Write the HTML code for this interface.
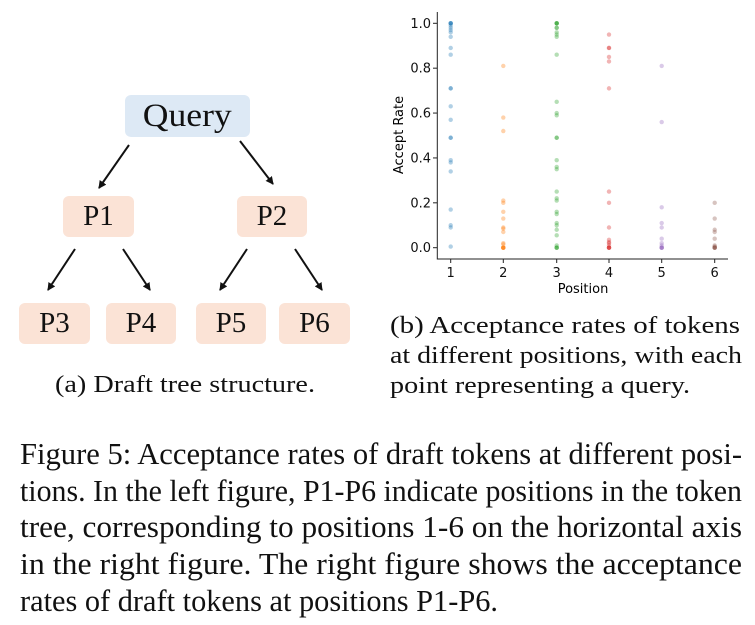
<!DOCTYPE html>
<html><head><meta charset="utf-8"><style>
body{margin:0;width:755px;height:625px;background:#fff;overflow:hidden;position:relative;font-family:"Liberation Serif",serif;color:#111}
.b{position:absolute;border-radius:6px;display:flex;align-items:center;justify-content:center;font-size:29px;background:#fbe3d6}
.f{position:absolute;white-space:nowrap;transform-origin:0 0;display:block}
</style></head><body>
<div class="b" style="left:125px;top:95px;width:125px;height:42px;background:#dde9f5"><span id="q" style="font-size:33px;display:inline-block">Query</span></div>
<div class="b" style="left:63px;top:196px;width:71px;height:41px">P1</div>
<div class="b" style="left:237px;top:196px;width:70px;height:41px">P2</div>
<div class="b" style="left:19px;top:303px;width:71px;height:41px">P3</div>
<div class="b" style="left:106px;top:303px;width:70px;height:41px">P4</div>
<div class="b" style="left:196px;top:303px;width:70px;height:41px">P5</div>
<div class="b" style="left:279px;top:303px;width:71px;height:41px">P6</div>
<svg style="position:absolute;left:0;top:0" width="755" height="625">
<defs><marker id="a" markerWidth="8" markerHeight="8" refX="7" refY="4" orient="auto" markerUnits="userSpaceOnUse"><path d="M0,0L8,4L0,8z" fill="#111"/></marker></defs>
<g stroke="#111" stroke-width="2" marker-end="url(#a)">
<line x1="129" y1="145" x2="99" y2="188"/><line x1="240" y1="141" x2="273" y2="184"/>
<line x1="75" y1="249" x2="48" y2="290"/><line x1="123" y1="249" x2="150" y2="290"/>
<line x1="247" y1="249" x2="220" y2="290"/><line x1="295" y1="249" x2="322" y2="290"/>
</g>
<g id="pl"></g>
<g stroke="#222" stroke-width="1" fill="none"><path d="M437.3,12V259H728"/></g>
<g font-family="DejaVu Sans,sans-serif" font-size="13" fill="#111" id="ax"></g>
<text x="403" y="135" transform="rotate(-90 403 135)" text-anchor="middle" font-family="DejaVu Sans,sans-serif" font-size="13">Accept Rate</text>
<text x="583" y="293" text-anchor="middle" font-family="DejaVu Sans,sans-serif" font-size="13">Position</text>
</svg>
<div class="f" id="ca" style="left:55px;top:370px;font-size:24px;line-height:30px">(a) Draft tree structure.</div>
<div class="f" id="b1" style="left:390px;top:311px;font-size:24px;line-height:30px">(b) Acceptance rates of tokens</div>
<div class="f" id="b2" style="left:390px;top:341px;font-size:24px;line-height:30px">at different positions, with each</div>
<div class="f" id="b3" style="left:390px;top:371px;font-size:24px;line-height:30px">point representing a query.</div>
<div class="f" id="m1" style="left:20px;top:436px;font-size:31px;line-height:36.7px">Figure 5: Acceptance rates of draft tokens at different posi-</div>
<div class="f" id="m2" style="left:20px;top:472.7px;font-size:31px;line-height:36.7px">tions. In the left figure, P1-P6 indicate positions in the token</div>
<div class="f" id="m3" style="left:20px;top:509.4px;font-size:31px;line-height:36.7px">tree, corresponding to positions 1-6 on the horizontal axis</div>
<div class="f" id="m4" style="left:20px;top:546.1px;font-size:31px;line-height:36.7px">in the right figure. The right figure shows the acceptance</div>
<div class="f" id="m5" style="left:20px;top:582.8px;font-size:31px;line-height:36.7px">rates of draft tokens at positions P1-P6.</div>
<script>
var xs=[450.7,503.3,556.7,609,661.7,714.7],cols=["#1f77b4","#ff7f0e","#2ca02c","#d62728","#9467bd","#8c564b"];
var d=[[1,1,1,1,.99,.98,.97,.96,.94,.89,.86,.71,.71,.63,.57,.49,.49,.39,.38,.34,.17,.10,.09,.005],
[.81,.58,.52,.21,.20,.16,.13,.09,.085,.07,.02,.015,0,0,0,0,0],
[1,1,1,1,.98,.98,.96,.95,.94,.86,.65,.60,.59,.49,.49,.39,.36,.35,.25,.22,.21,.16,.15,.11,.10,.08,.055,.01,0,0,0],
[.95,.89,.89,.85,.83,.71,.25,.20,.09,.035,.025,.02,.01,0,0,0,0],
[.81,.56,.18,.11,.09,.04,.02,.01,0,0,0,0],
[.20,.13,.08,.07,.04,.01,.005,0,0,0,0]];
var s="";d.forEach(function(a,i){a.forEach(function(v){s+='<circle cx="'+xs[i]+'" cy="'+(247.7-v*224.4)+'" r="2.2" fill="'+cols[i]+'" fill-opacity="0.35"/>';});});
document.getElementById("pl").innerHTML=s;
var t="";for(var k=0;k<=5;k++){var y=247.7-k*0.2*224.4;t+='<line x1="433" x2="437.3" y1="'+y+'" y2="'+y+'" stroke="#222"/><text x="431" y="'+(y+4.5)+'" text-anchor="end">'+(k*0.2).toFixed(1)+'</text>';}
xs.forEach(function(x,i){t+='<line x1="'+x+'" x2="'+x+'" y1="259" y2="263" stroke="#222"/><text x="'+x+'" y="277" text-anchor="middle">'+(i+1)+'</text>';});
document.getElementById("ax").innerHTML=t;
var W={ca:260,b1:350,b2:352,b3:300,m1:722,m2:722,m3:722,m4:722,m5:478};
for(var id in W){var e=document.getElementById(id);e.style.display="inline-block";var w=e.getBoundingClientRect().width;e.style.transform="scaleX("+(W[id]/w)+")";}
var q=document.getElementById("q");q.style.transform="scaleX("+(89/q.getBoundingClientRect().width)+")";
</script>
</body></html>
